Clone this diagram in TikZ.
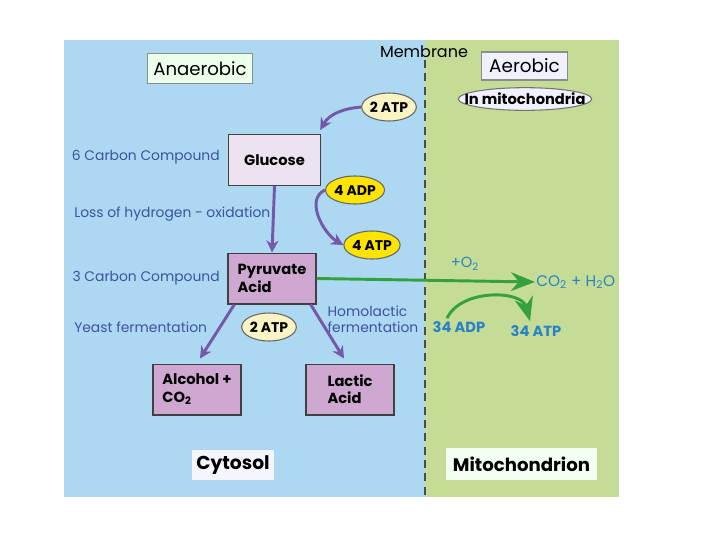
\documentclass[tikz,border=0pt]{standalone}
\usepackage{fontspec}
\setmainfont{Poppins}
\usetikzlibrary{arrows.meta,shapes.geometric}

\definecolor{cytoblue}{RGB}{172,216,242}
\definecolor{mitogreen}{RGB}{197,220,150}
\definecolor{arrowpurple}{RGB}{118,88,168}
\definecolor{arrowgreen}{RGB}{52,160,62}
\definecolor{labelblue}{RGB}{62,82,158}
\definecolor{textblue}{RGB}{40,130,200}
\definecolor{glucosefill}{RGB}{236,226,240}
\definecolor{acidfill}{RGB}{206,168,208}
\definecolor{paleyellow}{RGB}{250,244,196}
\definecolor{goldyellow}{RGB}{255,228,0}

\tikzset{
  compound/.style={draw=black!75, line width=1pt, minimum width=66pt, minimum height=38pt, font=\fontsize{11}{13}\selectfont\bfseries},
  sidelabel/.style={text=labelblue, font=\fontsize{10.4}{12}\selectfont, inner sep=0.75pt},
  energy/.style={ellipse, draw=black!60, line width=0.8pt, minimum width=41pt, minimum height=21pt, inner sep=0pt, font=\fontsize{10.5}{12}\selectfont\bfseries},
  purplearrow/.style={draw=arrowpurple, line width=2.2pt, -{Stealth[length=9pt,width=9pt]}},
  greenarrow/.style={draw=arrowgreen, line width=2.2pt, -{Stealth[length=18pt,width=14pt]}},
}

\begin{document}
\begin{tikzpicture}[x=0.75pt,y=0.75pt,yscale=-1,xscale=1]
\path[use as bounding box] (0,0) rectangle (720,540);

%Shape: Rectangle [id:cytosol panel]
\fill[cytoblue] (64,40) rectangle (425,497);
%Shape: Rectangle [id:mitochondrion panel]
\fill[mitogreen] (425,40) rectangle (619,497);
%Straight Lines [id:membrane]
\draw[black!70, line width=0.8pt, dash pattern={on 6pt off 4pt}] (425,60) -- (425,497);

% Text Node
\node (membrane) at (424,52) [font=\fontsize{12}{14}\selectfont, inner sep=0.75pt] {Membrane};
% Text Node
\node (anaerobic) at (200,68.5) [draw=black!45, fill=green!8!white, line width=0.8pt, minimum width=79pt, minimum height=22pt, font=\fontsize{13.6}{15}\selectfont] {Anaerobic};
% Text Node
\node (aerobic) at (524.5,66) [draw=black!45, fill=blue!6!white, line width=0.8pt, minimum width=65pt, minimum height=21pt, font=\fontsize{13.8}{15}\selectfont] {Aerobic};
% Text Node
\node (inmito) at (525,99) [ellipse, draw=black!55, fill=blue!6!white, line width=0.8pt, minimum height=17pt, inner xsep=-10pt, inner ysep=0pt, font=\fontsize{11}{12}\selectfont\bfseries] {In mitochondria};

% Energy Nodes
\node (atpA) at (389,107) [energy, fill=paleyellow] {2 ATP};
\node (adpB) at (355,190) [energy, fill=goldyellow] {4 ADP};
\node (atpB) at (372,245) [energy, fill=goldyellow] {4 ATP};
\node (atpC) at (269,327) [energy, fill=paleyellow] {2 ATP};

% Compound Nodes
\node (glucose) at (274.5,160) [compound, fill=glucosefill, minimum width=69pt] {Glucose};
\node (pyruvate) at (272,278.5) [compound, fill=acidfill, align=left] {Pyruvate\\Acid};
\node (alcohol) at (197,389.5) [compound, fill=acidfill, align=left] {Alcohol +\\CO\textsubscript{2}};
\node (lactic) at (350,389.5) [compound, fill=acidfill, align=left] {Lactic\\Acid};

% Text Node
\node (sixcarbon) at (221,157) [sidelabel, anchor=east] {6 Carbon Compound};
\node (hydrogen) at (73,214) [sidelabel, anchor=west] {Loss of hydrogen - oxidation};
\node (threecarbon) at (221,278) [sidelabel, anchor=east] {3 Carbon Compound};
\node (yeast) at (73,327) [sidelabel, anchor=west] {Yeast fermentation};
\node (homolactic) at (373,319) [sidelabel, align=left] {Homolactic\\fermentation};

% Text Node
\node (oxygen) at (465,264) [text=textblue, font=\fontsize{11}{12}\selectfont, inner sep=0.75pt] {+O\textsubscript{2}};
\node (water) at (535,282) [anchor=west, text=textblue, font=\fontsize{11.5}{13}\selectfont, inner sep=0.75pt] {CO\textsubscript{2} + H\textsubscript{2}O};
\node (adpD) at (459,327) [text=textblue, font=\fontsize{11}{12}\selectfont\bfseries, inner sep=0.75pt] {34 ADP};
\node (atpD) at (536,331) [text=textblue, font=\fontsize{11}{12}\selectfont\bfseries, inner sep=0.75pt] {34 ATP};
\coordinate (adpstart) at ([shift={(-12,-2)}]adpD.north);

% Text Node
\node (cytosol) at (233,465) [fill=blue!4!white, minimum width=61pt, minimum height=23pt, font=\fontsize{14}{16}\selectfont\bfseries] {Cytosol};
\node (mitochondrion) at (521.5,464) [fill=green!5!white, minimum width=113pt, minimum height=24pt, font=\fontsize{13.6}{16}\selectfont\bfseries] {Mitochondrion};

% Arrows
\draw[purplearrow] (atpA.west) to[out=175,in=-60] ([shift={(-1,-4)}]glucose.north east);
\draw[purplearrow] (adpB.west) to[out=155,in=210] (atpB.west);
\draw[purplearrow] (glucose.south) -- (pyruvate.north);
\draw[purplearrow] ([shift={(7,0)}]pyruvate.south west) -- ([shift={(3,-5)}]alcohol.north);
\draw[purplearrow] ([shift={(-6,0)}]pyruvate.south east) -- ([shift={(-6,-5)}]lactic.north);
\draw[greenarrow] (pyruvate.east) -- (water.west);
\draw[greenarrow] (adpstart) to[out=-65,in=-105] ([shift={(-6,-3)}]atpD.north);

\end{tikzpicture}
\end{document}
